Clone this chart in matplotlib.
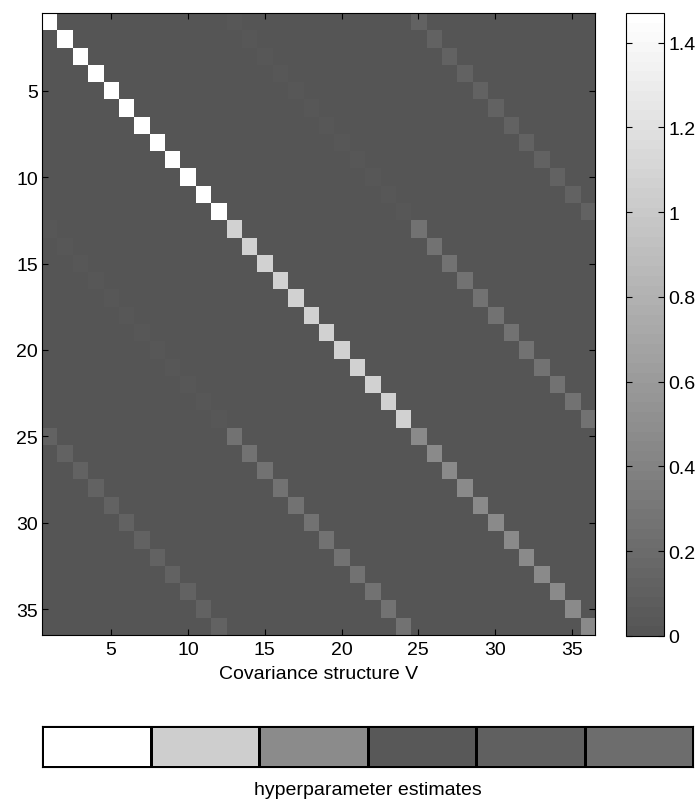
import matplotlib
matplotlib.use("Agg")
import matplotlib.pyplot as plt
import numpy as np
from matplotlib.colors import ListedColormap

# Hyperparameter estimates (3 variance components, 3 covariances)
h_var = [1.47, 1.07, 0.47]          # diagonal blocks 1, 2, 3
h_cov = {(0, 1): 0.045, (0, 2): 0.13, (1, 2): 0.26}
hyper = [1.47, 1.04, 0.47, 0.045, 0.11, 0.21]   # as shown in the bar
n_block = 12
n_blocks = 3

# Covariance structure V
n = n_block * n_blocks
V = np.zeros((n, n))
for b in range(n_blocks):
    for k in range(n_block):
        i = b * n_block + k
        V[i, i] = h_var[b]
for (a, b), val in h_cov.items():
    for k in range(n_block):
        i = a * n_block + k
        j = b * n_block + k
        V[i, j] = val
        V[j, i] = val

# gray colormap that starts at dark gray, 64 levels
levels = np.linspace(85 / 255, 1.0, 64)
cmap = ListedColormap(np.column_stack([levels, levels, levels]))
vmin, vmax = 0, 1.47

plt.rcParams["font.family"] = ["Liberation Sans", "DejaVu Sans"]
plt.rcParams["font.size"] = 14

fig = plt.figure(figsize=(7, 8.04), dpi=100)
W, H = 700, 804

def box(l, t, r, b):
    return [l / W, 1 - b / H, (r - l) / W, (b - t) / H]

ax = fig.add_axes(box(42, 14, 595, 636))
im = ax.imshow(V, cmap=cmap, vmin=vmin, vmax=vmax, interpolation="nearest",
               aspect="auto", extent=(0.5, n + 0.5, n + 0.5, 0.5))
ticks = [5, 10, 15, 20, 25, 30, 35]
ax.set_xticks(ticks)
ax.set_yticks(ticks)
ax.tick_params(direction="in", top=True, right=True, length=4, width=0.8, pad=3)
ax.tick_params(axis="x", pad=4.5)
ax.set_xlabel("Covariance structure V", labelpad=5)

cax = fig.add_axes(box(626, 14, 664, 637))
cb = fig.colorbar(im, cax=cax)
cb.set_ticks([0, 0.2, 0.4, 0.6, 0.8, 1.0, 1.2, 1.4])
cb.set_ticklabels(["0", "0.2", "0.4", "0.6", "0.8", "1", "1.2", "1.4"])
cax.tick_params(direction="in", left=True, right=True, length=4, width=0.8, pad=3)
cb.outline.set_linewidth(0.8)

bax = fig.add_axes(box(42, 727, 693, 768))
bax.pcolormesh(np.arange(len(hyper) + 1), [0, 1], np.array([hyper]),
               cmap=cmap, vmin=vmin, vmax=vmax, edgecolors="k", linewidth=0.8)
bax.set_xlim(0, len(hyper))
bax.set_ylim(0, 1)
bax.set_xticks([])
bax.set_yticks([])
bax.set_xlabel("hyperparameter estimates", labelpad=10)

fig.savefig("out.png", dpi=100)
